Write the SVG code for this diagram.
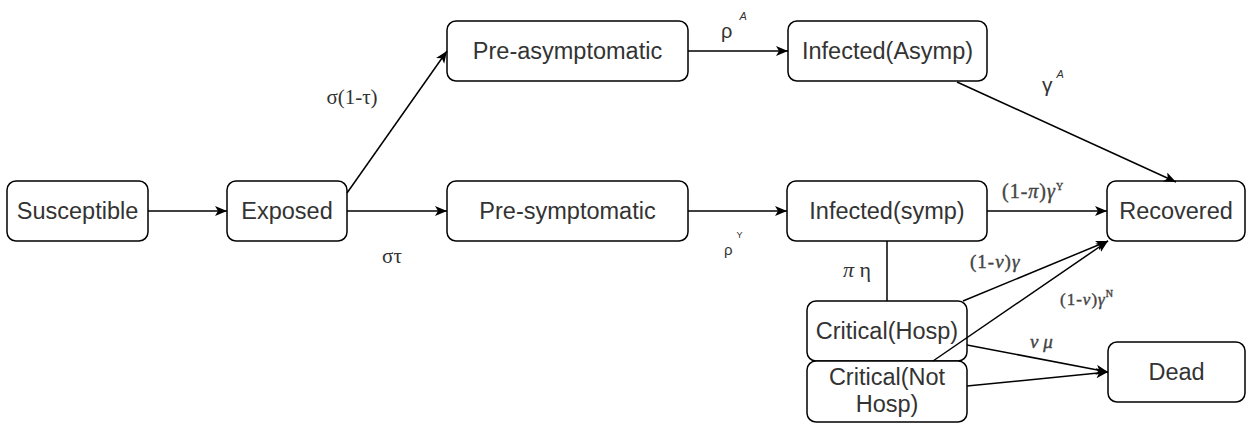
<svg xmlns="http://www.w3.org/2000/svg" width="1246" height="425" viewBox="0 0 1246 425">
<style>
.node rect{fill:#fff;stroke:#000;stroke-width:1.5}
.node text{font-family:"Liberation Sans",Arial,sans-serif;font-size:23.5px;fill:#333;text-anchor:middle}
.edge{fill:none;stroke:#000;stroke-width:1.5}
.arr{marker-end:url(#ah)}
.lbl{font-family:"Liberation Serif","Times New Roman",serif;fill:#333}
.sans{font-family:"Liberation Sans",Arial,sans-serif;fill:#333}
.m{font-family:"Liberation Serif","Times New Roman",serif;fill:#444;stroke:#444;stroke-width:0.4}
</style>
<defs>
<marker id="ah" markerUnits="userSpaceOnUse" markerWidth="14" markerHeight="12" refX="12" refY="5" orient="auto">
<path d="M0,0 L12,5 L0,10 L3,5 z" fill="#000"/>
</marker>
</defs>
<rect width="1246" height="425" fill="#fff"/>
<g id="n-susceptible" class="node"><rect x="7" y="181" width="141" height="60" rx="9"/><text x="77.5" y="219">Susceptible</text></g>
<g id="n-exposed" class="node"><rect x="227" y="181" width="120" height="60" rx="9"/><text x="287" y="219">Exposed</text></g>
<g id="n-preasymp" class="node"><rect x="447" y="21" width="241" height="60" rx="9"/><text x="567.5" y="59">Pre-asymptomatic</text></g>
<g id="n-presymp" class="node"><rect x="447" y="181" width="241" height="60" rx="9"/><text x="567.5" y="219">Pre-symptomatic</text></g>
<g id="n-infasymp" class="node"><rect x="788" y="21" width="199" height="60" rx="9"/><text x="887.5" y="59">Infected(Asymp)</text></g>
<g id="n-infsymp" class="node"><rect x="787" y="181" width="200" height="60" rx="9"/><text x="887" y="219">Infected(symp)</text></g>
<g id="n-recovered" class="node"><rect x="1107" y="181" width="138" height="60" rx="9"/><text x="1176" y="219">Recovered</text></g>
<g id="n-dead" class="node"><rect x="1108" y="342" width="137" height="60" rx="9"/><text x="1176.5" y="380">Dead</text></g>
<g id="n-crithosp" class="node"><rect x="807" y="301" width="160" height="60" rx="9"/><text x="887" y="339">Critical(Hosp)</text></g>
<g id="n-critnothosp" class="node"><rect x="807" y="361" width="160" height="61" rx="9"/><text x="887" y="385">Critical(Not</text><text x="887" y="412">Hosp)</text></g>
<g id="connectors">
<line class="edge arr" x1="148" y1="211" x2="227" y2="211"/>
<line class="edge arr" x1="347" y1="211" x2="447" y2="211"/>
<line class="edge arr" x1="347" y1="193" x2="447" y2="51"/>
<line class="edge arr" x1="688" y1="51" x2="788" y2="51"/>
<line class="edge arr" x1="688" y1="211" x2="787" y2="211"/>
<line class="edge arr" x1="957" y1="82" x2="1176" y2="182"/>
<line class="edge arr" x1="987" y1="211" x2="1107" y2="211"/>
<line class="edge" x1="887" y1="241" x2="887" y2="301"/>
<line class="edge arr" x1="963" y1="301" x2="1108" y2="241"/>
<line class="edge arr" x1="933" y1="361" x2="1108" y2="241"/>
<line class="edge arr" x1="967" y1="345" x2="1108" y2="372"/>
<line class="edge arr" x1="967" y1="386" x2="1108" y2="372"/>
</g>
<g id="labels">
<text class="lbl" x="352" y="104" font-size="21" text-anchor="middle">σ(1-τ)</text>
<text class="lbl" x="392" y="263" font-size="21" text-anchor="middle">στ</text>
<text class="sans" x="721" y="38" font-size="20">ρ<tspan dx="7" dy="-18" font-size="11" font-style="italic">A</tspan></text>
<text class="sans" x="724" y="255" font-size="15">ρ<tspan dx="4" dy="-17" font-size="9">Y</tspan></text>
<text class="sans" x="1042" y="92" font-size="21">γ<tspan dx="4" dy="-14" font-size="11" font-style="italic">A</tspan></text>
<text class="m" x="1002" y="198" font-size="20" letter-spacing="1">(1-<tspan font-style="italic">π</tspan>)<tspan font-style="italic">γ</tspan><tspan dy="-8" font-size="10">Y</tspan></text>
<text class="lbl" x="843" y="277" font-size="22"><tspan font-style="italic">π</tspan> η</text>
<text class="m" x="970" y="268" font-size="19" letter-spacing="1">(1-<tspan font-style="italic">ν</tspan>)<tspan font-style="italic">γ</tspan></text>
<text class="m" x="1060" y="305" font-size="17" letter-spacing="1">(1-<tspan font-style="italic">ν</tspan>)<tspan font-style="italic">γ</tspan><tspan dy="-8" font-size="10">N</tspan></text>
<text class="m" x="1030" y="348" font-size="19" font-style="italic">ν μ</text>
</g>
</svg>
